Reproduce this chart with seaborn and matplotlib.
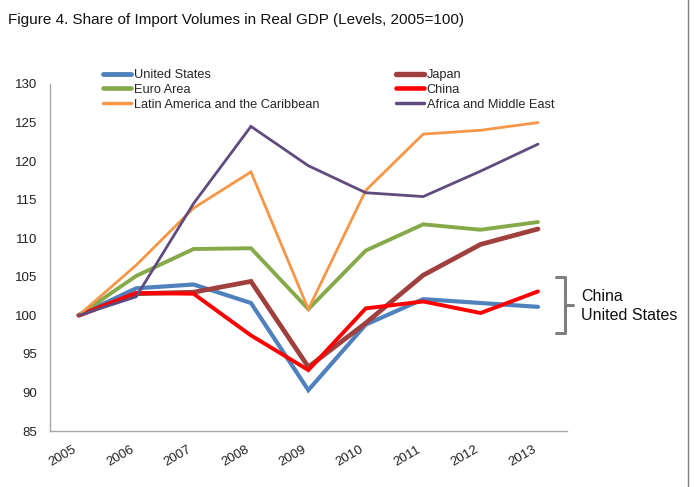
import numpy as np
import pandas as pd
import matplotlib
matplotlib.use('Agg')
import matplotlib.pyplot as plt
from matplotlib.lines import Line2D
import seaborn as sns

years = ['2005', '2006', '2007', '2008', '2009', '2010', '2011', '2012', '2013']

united_states = [100, 103.5, 104.0, 101.6, 90.3, 98.8, 102.1, 101.6, 101.1]
japan = [100, 102.8, 103.0, 104.4, 93.3, 99.0, 105.2, 109.2, 111.2]
euro_area = [100, 105.1, 108.6, 108.7, 100.8, 108.4, 111.8, 111.1, 112.1]
china = [100, 102.9, 102.8, 97.4, 92.9, 100.9, 101.8, 100.3, 103.1]
latin_america = [100, 106.5, 113.9, 118.6, 100.8, 116.2, 123.5, 124.0, 125.0]
africa_me = [100, 102.4, 114.5, 124.5, 119.4, 115.9, 115.4, 118.7, 122.2]

series_names = ['United States', 'Japan', 'Euro Area', 'China',
                'Latin America and the Caribbean', 'Africa and Middle East']
series_values = [united_states, japan, euro_area, china, latin_america, africa_me]

colors = {
    'United States': '#4F81BD',
    'Japan': '#A0403E',
    'Euro Area': '#86A94A',
    'China': '#FF0000',
    'Latin America and the Caribbean': '#F79646',
    'Africa and Middle East': '#5F4B7D',
}
widths = {
    'United States': 3.0,
    'Japan': 3.4,
    'Euro Area': 2.8,
    'China': 2.8,
    'Latin America and the Caribbean': 2.0,
    'Africa and Middle East': 2.0,
}

rows = []
for name, vals in zip(series_names, series_values):
    for i, v in enumerate(vals):
        rows.append({'pos': i, 'year': years[i], 'series': name, 'value': v})
df = pd.DataFrame(rows)

sns.set_style('white')
plt.rcParams['font.family'] = ['Liberation Sans', 'DejaVu Sans']

fig = plt.figure(figsize=(6.94, 4.87), dpi=100)
ax = fig.add_axes([50 / 694, 1 - 431 / 487, (566.7 - 50) / 694, (431 - 84) / 487])

for name in series_names:
    sub = df[df['series'] == name]
    sns.lineplot(data=sub, x='pos', y='value', color=colors[name],
                 linewidth=widths[name], ax=ax, legend=False,
                 solid_joinstyle='miter')

ax.set_xlim(-0.5, len(years) - 0.5)
ax.set_ylim(85, 130)
ax.set_yticks(np.arange(85, 131, 5))
ax.set_xticks(range(len(years)))
ax.set_xticklabels(years, rotation=30, ha='right')
ax.set_xticks(np.arange(-0.5, len(years), 1), minor=True)
ax.tick_params(axis='x', which='major', length=0, pad=9, labelsize=9.5, colors='#222222')
ax.tick_params(axis='x', which='minor', length=4, color='#A6A6A6', direction='out')
ax.tick_params(axis='y', which='major', length=4, color='#A6A6A6', direction='out',
               labelsize=9.5, labelcolor='#222222', pad=5)
ax.set_xlabel('')
ax.set_ylabel('')
for s in ['top', 'right']:
    ax.spines[s].set_visible(False)
for s in ['left', 'bottom']:
    ax.spines[s].set_color('#A6A6A6')
    ax.spines[s].set_linewidth(1.0)

legend_order = ['United States', 'Euro Area', 'Latin America and the Caribbean',
                'Japan', 'China', 'Africa and Middle East']
handles = [Line2D([], [], color=colors[n], linewidth=widths[n] + 0.5) for n in legend_order]
fig.legend(handles, legend_order, loc='upper left', ncol=2,
           bbox_to_anchor=(98 / 694, 1 - 64 / 487), frameon=False,
           fontsize=9.2, handlelength=2.2, handletextpad=0.2,
           labelspacing=0.22, columnspacing=6.0, borderaxespad=0)

fig.text(8 / 694, 1 - 20 / 487,
         'Figure 4. Share of Import Volumes in Real GDP (Levels, 2005=100)',
         fontsize=11, ha='left', va='center', color='#111111')

# bracket grouping China and United States
bx0, bx1, bx2 = 556 / 694, 565 / 694, 573 / 694
by0, bym, by1 = 1 - 277 / 487, 1 - 305 / 487, 1 - 333 / 487
fig.add_artist(Line2D([bx0, bx1, bx1, bx0], [by0, by0, by1, by1],
                      color='#7F7F7F', linewidth=2.2, transform=fig.transFigure))
fig.add_artist(Line2D([bx1, bx2], [bym, bym],
                      color='#7F7F7F', linewidth=2.2, transform=fig.transFigure))
fig.text(581 / 694, 1 - 306 / 487, 'China\nUnited States', fontsize=11.5,
         ha='left', va='center', linespacing=1.3, color='#111111')

# right frame edge
fig.add_artist(Line2D([688 / 694, 688 / 694], [0, 1], color='#7F7F7F',
                      linewidth=1.0, transform=fig.transFigure))

fig.savefig('out.png', dpi=100)
